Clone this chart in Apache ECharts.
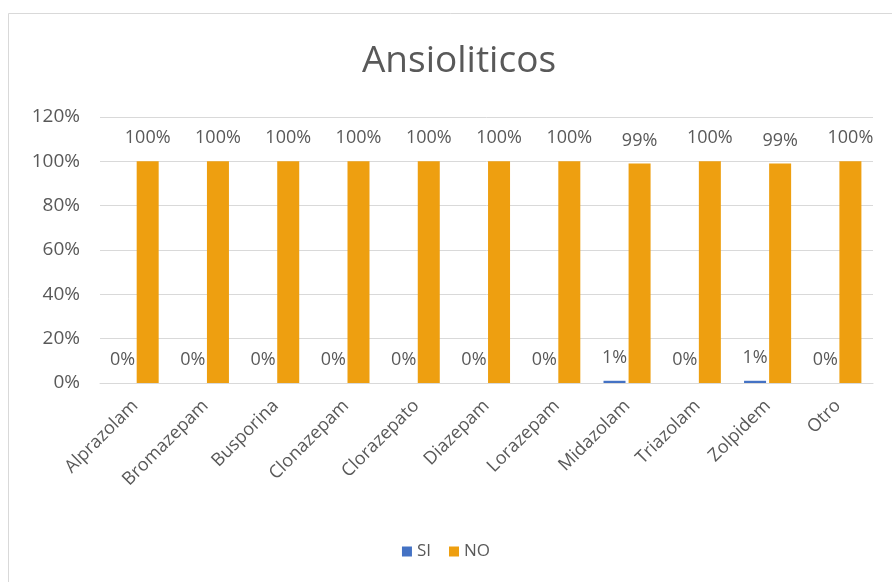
<!DOCTYPE html>
<html>
<head>
<meta charset="utf-8">
<script src="https://cdn.jsdelivr.net/npm/echarts@6/dist/echarts.min.js"></script>
<style>
html,body{margin:0;padding:0;background:#fff;}
#c{width:892px;height:582px;}
</style>
</head>
<body>
<div id="c"></div>
<script>
var categories = ['Alprazolam','Bromazepam','Busporina','Clonazepam','Clorazepato','Diazepam','Lorazepam','Midazolam','Triazolam','Zolpidem','Otro'];
var siValues = [0,0,0,0,0,0,0,0.01,0,0.01,0];
var noValues = [1,1,1,1,1,1,1,0.99,1,0.99,1];
var yTicks = [0,0.2,0.4,0.6,0.8,1.0,1.2];

var FONT = 'Open Sans';
var GRAY = '#595959';
var chart = echarts.init(document.getElementById('c'), null, {renderer:'canvas'});
var pct = function(v){ return Math.round(v*100) + '%'; };
var lbl = {
  show:true, position:'top', distance:14,
  color:GRAY, fontFamily:FONT, fontSize:18,
  formatter:function(p){ return pct(p.value); }
};
chart.setOption({
  backgroundColor:'#fff',
  animation:false,
  title:{
    text:'Ansioliticos', left:454, top:38, textAlign:'center',
    textStyle:{fontFamily:FONT, fontSize:37, fontWeight:'normal', color:GRAY}
  },
  graphic:[{
    type:'rect', shape:{x:8.5,y:13.5,width:1000,height:1000},
    style:{fill:'none', stroke:'#D9D9D9', lineWidth:1}, silent:true, z:-1
  }],
  legend:{
    data:['SI','NO'], left:'center', top:538,
    itemWidth:10, itemHeight:10, itemGap:18,
    icon:'rect',
    textStyle:{fontFamily:FONT, fontSize:17, color:GRAY}
  },
  grid:{left:100, right:19, top:117, bottom:199},
  xAxis:{
    type:'category', data:categories,
    axisTick:{show:false},
    axisLine:{lineStyle:{color:'#D9D9D9'}},
    axisLabel:{rotate:45, interval:0, margin:20, color:GRAY, fontFamily:FONT, fontSize:18}
  },
  yAxis:{
    type:'value', min:0, max:1.2, interval:0.2,
    axisLine:{show:false}, axisTick:{show:false},
    splitLine:{lineStyle:{color:'#D9D9D9'}},
    axisLabel:{margin:20, color:GRAY, fontFamily:FONT, fontSize:19, formatter:function(v){ return pct(v); }}
  },
  series:[
    {name:'SI', type:'bar', data:siValues, barWidth:22, barGap:'14%', itemStyle:{color:'#4472C4'}, label:lbl},
    {name:'NO', type:'bar', data:noValues, barWidth:22, itemStyle:{color:'#EE9F10'}, label:lbl}
  ]
});
</script>
</body>
</html>
